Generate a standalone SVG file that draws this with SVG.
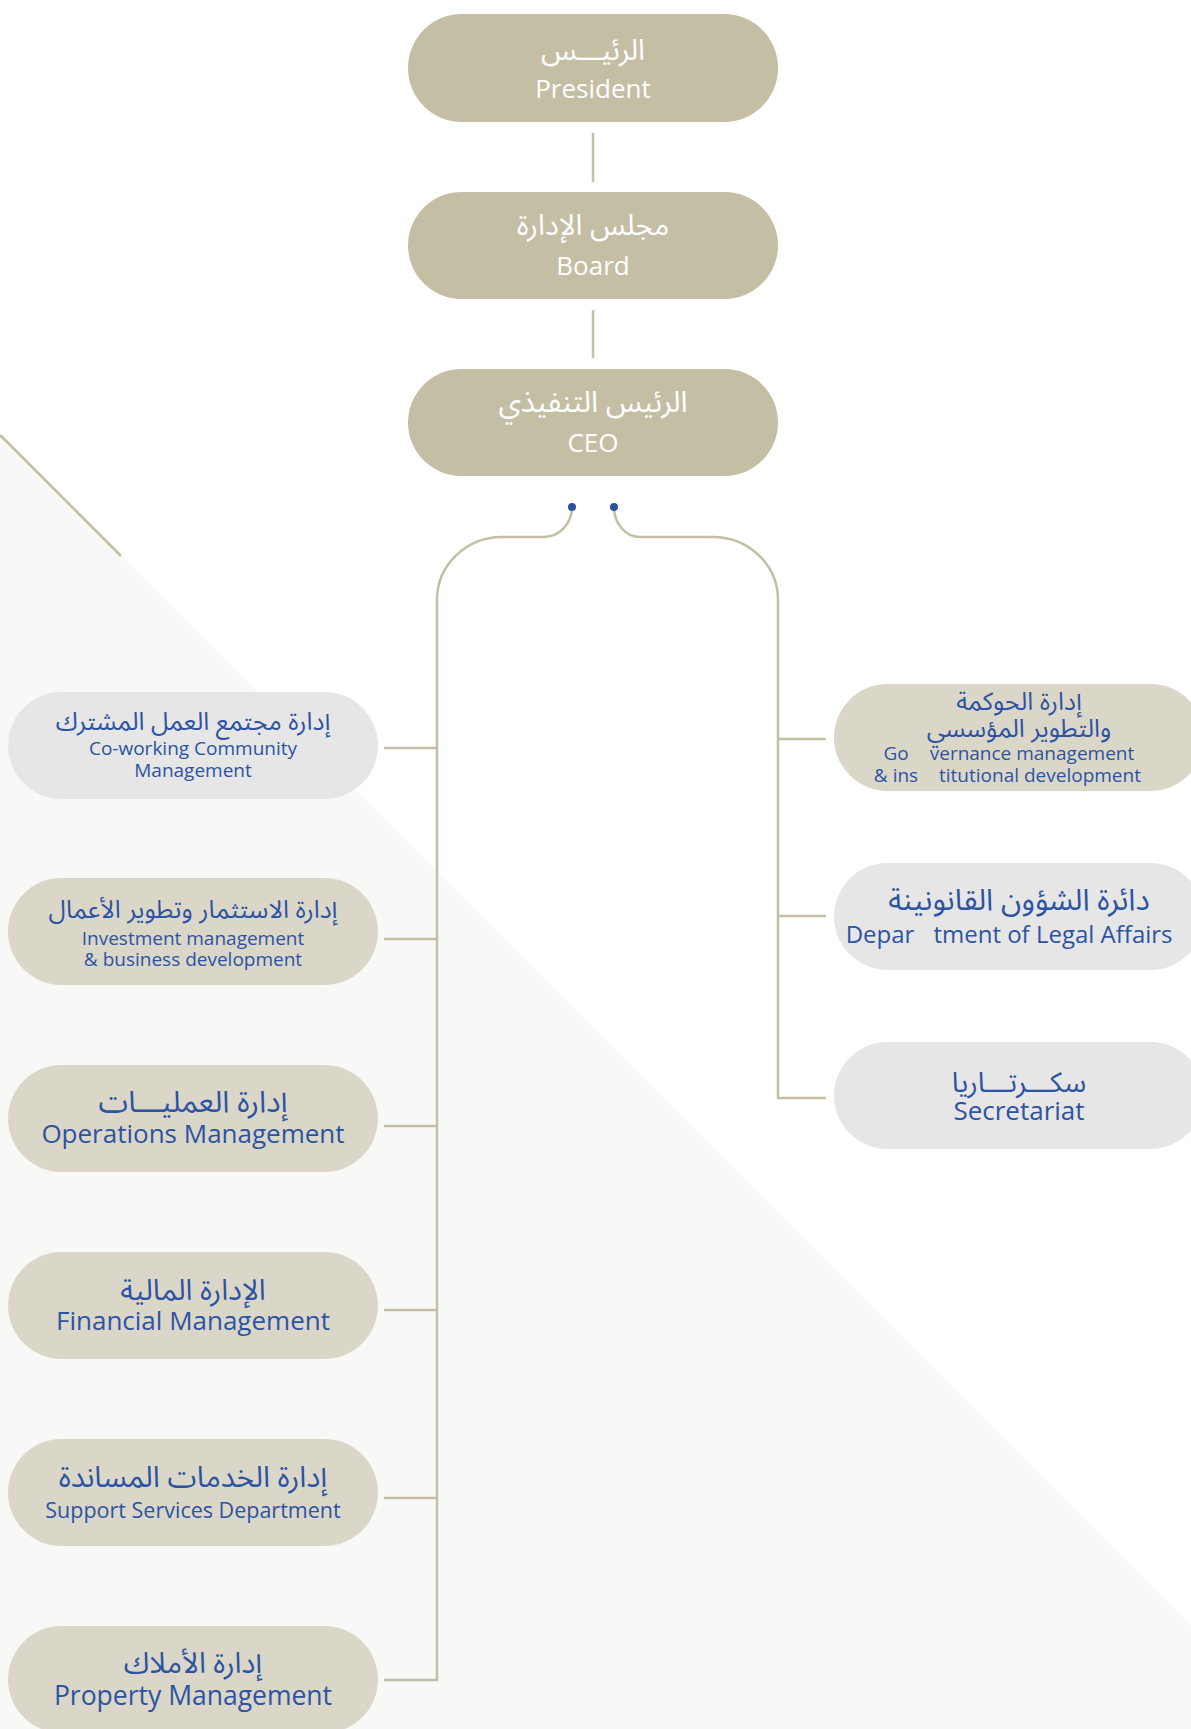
<svg xmlns="http://www.w3.org/2000/svg" width="1191" height="1729" viewBox="0 0 1191 1729">
<style>
.top{fill:#c4bea5}
.tan{fill:#dbd7c8}
.gray{fill:#e6e6e6}
.w{fill:#ffffff;font-family:"Open Sans","Noto Sans",sans-serif;text-anchor:middle}
.wa{fill:#ffffff;font-family:"Noto Sans Arabic","DejaVu Sans",sans-serif;text-anchor:middle}
.b{fill:#2d53a3;font-family:"Open Sans","Noto Sans",sans-serif;text-anchor:middle}
.ba{fill:#2d53a3;font-family:"Noto Sans Arabic","DejaVu Sans",sans-serif;text-anchor:middle}
.c{fill:none;stroke:#c4bea5;stroke-width:2.5}
</style>
<rect x="0" y="0" width="1191" height="1729" fill="#ffffff"/>
<polygon points="0,435 1191,1626 1191,1729 0,1729" fill="#f8f8f6"/>
<line x1="0" y1="435" x2="121" y2="556" stroke="#c4bea5" stroke-width="2.5"/>

<g id="connectors">
<line class="c" x1="593" y1="133" x2="593" y2="182"/>
<line class="c" x1="593" y1="310" x2="593" y2="358"/>
<path class="c" d="M572,507 A28,30 0 0 1 544,537 L502,537 A65,63 0 0 0 437,600 L437,1680 L384,1680"/>
<path class="c" d="M614,507 A26,30 0 0 0 640,537 L713,537 A65,63 0 0 1 778,600 L778,1098 L826,1098"/>
<line class="c" x1="384" y1="748" x2="437" y2="748"/>
<line class="c" x1="384" y1="939" x2="437" y2="939"/>
<line class="c" x1="384" y1="1126" x2="437" y2="1126"/>
<line class="c" x1="384" y1="1310" x2="437" y2="1310"/>
<line class="c" x1="384" y1="1498" x2="437" y2="1498"/>
<line class="c" x1="778" y1="739" x2="826" y2="739"/>
<line class="c" x1="778" y1="916" x2="826" y2="916"/>
<circle cx="572" cy="507" r="4" fill="#2f4f9f"/>
<circle cx="614" cy="507" r="4" fill="#2f4f9f"/>
</g>

<g id="president">
<rect class="top" x="408" y="14" width="370" height="108" rx="54"/>
<text class="wa" x="593" y="60" font-size="29">الرئيـــس</text>
<text class="w" x="593" y="98" font-size="26">President</text>
</g>
<g id="board">
<rect class="top" x="408" y="192" width="370" height="107" rx="53.5"/>
<text class="wa" x="593" y="235" font-size="29">مجلس الإدارة</text>
<text class="w" x="593" y="275" font-size="26">Board</text>
</g>
<g id="ceo">
<rect class="top" x="408" y="369" width="370" height="107" rx="53.5"/>
<text class="wa" x="593" y="412" font-size="29.5">الرئيس التنفيذي</text>
<text class="w" x="593" y="452" font-size="26">CEO</text>
</g>

<g id="coworking">
<rect class="gray" x="8" y="692" width="370" height="107" rx="53.5"/>
<text class="ba" x="193" y="730" font-size="25">إدارة مجتمع العمل المشترك</text>
<text class="b" x="193" y="755" font-size="19">Co-working Community</text>
<text class="b" x="193" y="777" font-size="19">Management</text>
</g>
<g id="investment">
<rect class="tan" x="8" y="878" width="370" height="107" rx="53.5"/>
<text class="ba" x="193" y="918" font-size="25">إدارة الاستثمار وتطوير الأعمال</text>
<text class="b" x="193" y="945" font-size="19">Investment management</text>
<text class="b" x="193" y="966" font-size="19">&amp; business development</text>
</g>
<g id="operations">
<rect class="tan" x="8" y="1065" width="370" height="107" rx="53.5"/>
<text class="ba" x="193" y="1112" font-size="30">إدارة العمليـــات</text>
<text class="b" x="193" y="1143" font-size="26">Operations Management</text>
</g>
<g id="financial">
<rect class="tan" x="8" y="1252" width="370" height="107" rx="53.5"/>
<text class="ba" x="193" y="1300" font-size="29">الإدارة المالية</text>
<text class="b" x="193" y="1330" font-size="26">Financial Management</text>
</g>
<g id="support">
<rect class="tan" x="8" y="1439" width="370" height="107" rx="53.5"/>
<text class="ba" x="193" y="1487" font-size="29.5">إدارة الخدمات المساندة</text>
<text class="b" x="193" y="1518" font-size="21.5">Support Services Department</text>
</g>
<g id="property">
<rect class="tan" x="8" y="1626" width="370" height="107" rx="53.5"/>
<text class="ba" x="193" y="1673" font-size="29">إدارة الأملاك</text>
<text class="b" x="193" y="1705" font-size="26.5">Property Management</text>
</g>

<g id="governance">
<rect class="tan" x="834" y="684" width="370" height="107" rx="53.5"/>
<text class="ba" x="1019" y="710" font-size="25">إدارة الحوكمة</text>
<text class="ba" x="1019" y="737" font-size="25">والتطوير المؤسسي</text>
<text class="b" font-size="19" y="760"><tspan x="896">Go</tspan><tspan x="1032">vernance management</tspan></text>
<text class="b" font-size="19" y="782"><tspan x="896">&amp; ins</tspan><tspan x="1040">titutional development</tspan></text>
</g>
<g id="legal">
<rect class="gray" x="834" y="863" width="370" height="107" rx="53.5"/>
<text class="ba" x="1019" y="910" font-size="30">دائرة الشؤون القانونينة</text>
<text class="b" font-size="24" y="943"><tspan x="880">Depar</tspan><tspan x="1053">tment of Legal Affairs</tspan></text>
</g>
<g id="secretariat">
<rect class="gray" x="834" y="1042" width="370" height="107" rx="53.5"/>
<text class="ba" x="1019" y="1092" font-size="28">سكـــرتـــاريا</text>
<text class="b" x="1019" y="1120" font-size="26">Secretariat</text>
</g>
</svg>
